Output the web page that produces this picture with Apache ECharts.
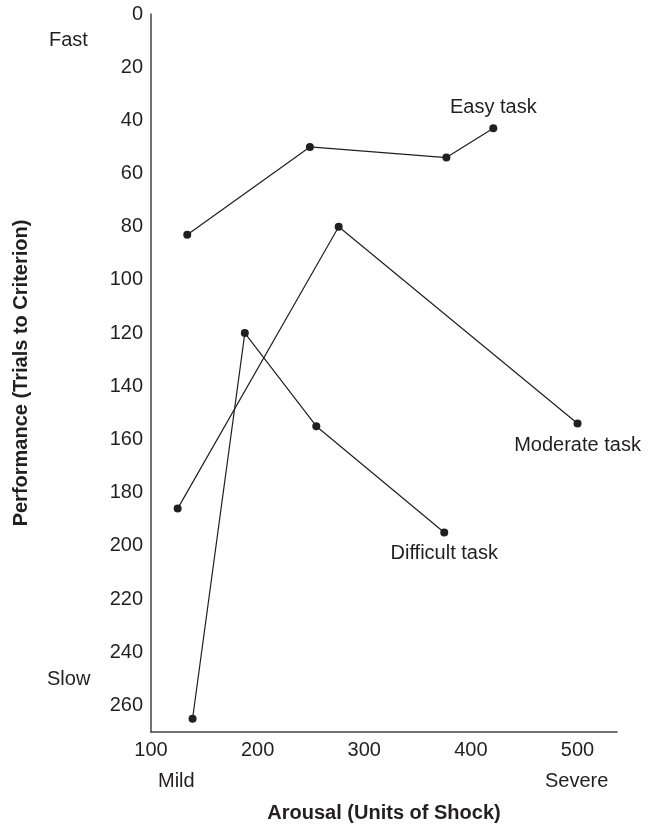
<!DOCTYPE html>
<html>
<head>
<meta charset="utf-8">
<script src="https://cdn.jsdelivr.net/npm/echarts@6/dist/echarts.min.js"></script>
<style>
  html, body { margin: 0; padding: 0; background: #fff; }
  #chart { width: 661px; height: 826px; }
</style>
</head>
<body>
<div id="chart"></div>
<script>
// arousal (units of shock) vs trials to criterion
const easyTask = [[134, 83], [249, 50], [377, 54], [421, 43]];
const moderateTask = [[125, 186], [276, 80], [500, 154]];
const difficultTask = [[139, 265], [188, 120], [255, 155], [375, 195]];

const xTicks = { min: 100, max: 537, step: 100 };
const yTicks = { min: 0, max: 270, step: 20 };

const ink = '#231f20';
const font = 'Liberation Sans, Arial, Helvetica, sans-serif';

const chart = echarts.init(document.getElementById('chart'), null, { renderer: 'canvas' });

function taskSeries(name, data, labelPos, dist) {
  return {
    name,
    type: 'line',
    data: data.map((d, i) => {
      if (i !== data.length - 1) return d;
      return {
        value: d,
        label: {
          show: true,
          position: labelPos,
          distance: dist,
          formatter: name,
          color: ink,
          fontFamily: font,
          fontSize: 20,
        },
      };
    }),
    symbol: 'circle',
    symbolSize: 8,
    itemStyle: { color: ink },
    lineStyle: { color: ink, width: 1.2 },
    animation: false,
    z: 3,
  };
}

chart.setOption({
  backgroundColor: '#fff',
  textStyle: { fontFamily: font, color: ink },
  grid: { left: 151, right: 44, top: 14, bottom: 94, outerBoundsMode: 'none' },
  xAxis: {
    type: 'value',
    position: 'bottom',
    min: xTicks.min,
    max: xTicks.max,
    interval: xTicks.step,
    name: 'Arousal (Units of Shock)',
    nameLocation: 'middle',
    nameGap: 71,
    nameTextStyle: { fontSize: 20, fontWeight: 'bold', color: ink, fontFamily: font },
    axisLine: { show: true, onZero: false, lineStyle: { color: '#444', width: 1.5 } },
    axisTick: { show: false },
    splitLine: { show: false },
    axisLabel: { fontSize: 20, color: ink, margin: 8, showMaxLabel: false, fontFamily: font },
  },
  yAxis: {
    type: 'value',
    inverse: true,
    min: yTicks.min,
    max: yTicks.max,
    interval: yTicks.step,
    name: 'Performance (Trials to Criterion)',
    nameLocation: 'middle',
    nameGap: 120,
    nameTextStyle: { fontSize: 20, fontWeight: 'bold', color: ink, fontFamily: font },
    axisLine: { show: true, onZero: false, lineStyle: { color: '#444', width: 1.5 } },
    axisTick: { show: false },
    splitLine: { show: false },
    axisLabel: { fontSize: 20, color: ink, margin: 8, showMaxLabel: false, fontFamily: font },
  },
  graphic: [
    { type: 'text', left: 49, top: 30, style: { text: 'Fast', font: '20px ' + font, fill: ink } },
    { type: 'text', left: 47, top: 669, style: { text: 'Slow', font: '20px ' + font, fill: ink } },
    { type: 'text', left: 158, top: 771, style: { text: 'Mild', font: '20px ' + font, fill: ink } },
    { type: 'text', left: 545, top: 771, style: { text: 'Severe', font: '20px ' + font, fill: ink } },
  ],
  series: [
    taskSeries('Easy task', easyTask, 'top', 7),
    taskSeries('Moderate task', moderateTask, 'bottom', 8),
    taskSeries('Difficult task', difficultTask, 'bottom', 7),
  ],
});
</script>
</body>
</html>
